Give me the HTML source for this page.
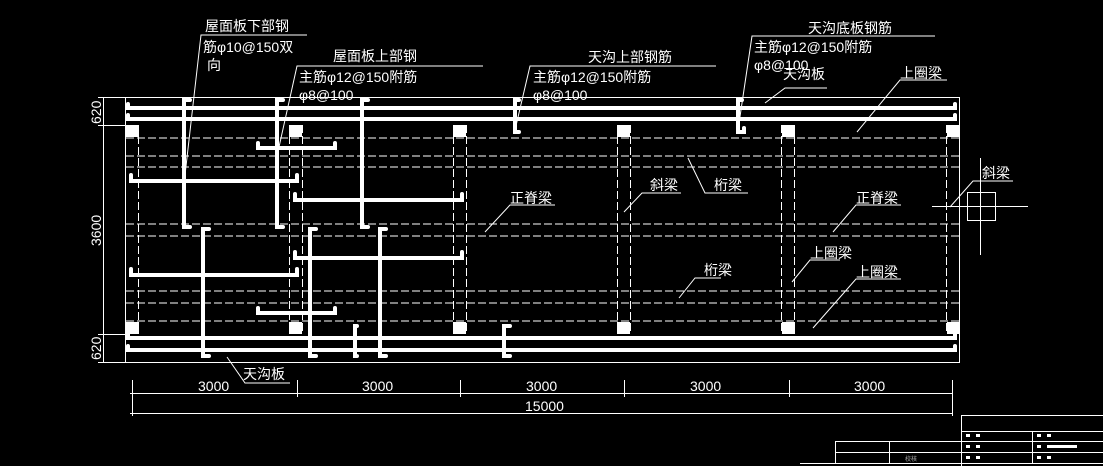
<!DOCTYPE html>
<html><head><meta charset="utf-8"><style>
html,body{margin:0;padding:0;background:#000;width:1103px;height:466px;overflow:hidden}
svg text{font-family:"Liberation Sans","Noto Sans CJK SC",sans-serif;fill:#fff;font-size:14px}
</style></head><body>
<svg width="1103" height="466" viewBox="0 0 1103 466" xmlns="http://www.w3.org/2000/svg">
<g stroke="#fff" fill="none" stroke-width="1">
<rect x="125.5" y="97.5" width="834" height="265"/>
<g stroke-dasharray="8,3">
<line x1="126" y1="138" x2="959" y2="138"/>
<line x1="126" y1="156" x2="959" y2="156"/>
<line x1="126" y1="167" x2="959" y2="167"/>
<line x1="126" y1="224" x2="959" y2="224"/>
<line x1="126" y1="236" x2="959" y2="236"/>
<line x1="126" y1="291" x2="959" y2="291"/>
<line x1="126" y1="303" x2="959" y2="303"/>
<line x1="126" y1="321" x2="959" y2="321"/>
<line x1="138.5" y1="125" x2="138.5" y2="334"/>
<line x1="289.5" y1="125" x2="289.5" y2="334"/>
<line x1="302.5" y1="125" x2="302.5" y2="334"/>
<line x1="453.5" y1="125" x2="453.5" y2="334"/>
<line x1="466.5" y1="125" x2="466.5" y2="334"/>
<line x1="617.5" y1="125" x2="617.5" y2="334"/>
<line x1="630.5" y1="125" x2="630.5" y2="334"/>
<line x1="781.5" y1="125" x2="781.5" y2="334"/>
<line x1="794.5" y1="125" x2="794.5" y2="334"/>
<line x1="946.5" y1="125" x2="946.5" y2="334"/>
</g>
</g>
<g fill="#fff">
<rect x="126" y="125" width="13" height="12"/><rect x="289" y="125" width="13" height="12"/><rect x="453" y="125" width="13" height="12"/><rect x="617" y="125" width="13" height="12"/><rect x="782" y="125" width="13" height="12"/><rect x="947" y="125" width="13" height="12"/>
<rect x="126" y="322" width="13" height="12"/><rect x="289" y="322" width="13" height="12"/><rect x="453" y="322" width="13" height="12"/><rect x="617" y="322" width="13" height="12"/><rect x="782" y="322" width="13" height="12"/><rect x="947" y="322" width="13" height="12"/>
</g>
<g stroke="#fff" fill="none" stroke-width="4" stroke-linecap="round">
<path d="M128 104 v4 H955 v-4"/><path d="M128 115 v4 H955 v-4"/>
<path d="M128 334 v4 H955 v-4"/><path d="M128 346 v4 H955 v-4"/>
<path d="M190 100 h-6 v127 h6"/><path d="M283 100 h-6 v127 h6"/><path d="M368 100 h-6 v127 h6"/>
<path d="M209 229 h-6 v127 h6"/><path d="M316 229 h-6 v127 h6"/><path d="M386 229 h-6 v127 h6"/>
<path d="M131 175 v6 H297 v-6"/><path d="M258 143 v5 H335 v-5"/><path d="M295 194 v6 H462 v-6"/>
<path d="M131 269 v6 H297 v-6"/><path d="M295 252 v6 H462 v-6"/><path d="M258 308 v5 H335 v-5"/>
<path d="M357 326 h-2 v30 h2"/>
<path d="M519 100 h-4 v32 h4"/><path d="M742 100 h-4 v32 h6 v-4"/><path d="M510 326 h-6 v30 h6"/>
</g>
<g stroke="#fff" fill="none" stroke-width="1">
<path d="M307 35 H201 L185 175"/>
<path d="M483 66 H297 L279 147"/>
<path d="M716 66 H530 L515 130"/>
<path d="M935 36 H752 L738 130"/>
<path d="M827 88 H785 L765 103"/>
<path d="M947 80 H900 L857 132"/>
<path d="M688 158 L705 193 H748"/>
<path d="M681 193 H642 L624 212"/>
<path d="M555 205 H510 L485 232"/>
<path d="M901 205 H856 L833 232"/>
<path d="M840 260 H810 L792 282"/>
<path d="M901 279 H856 L813 328"/>
<path d="M721 278 H695 L679 298"/>
<path d="M290 383 H245 L227 357"/>
<path d="M1013 181 H973 L950 207"/>
<rect x="967.5" y="192.5" width="28" height="28"/>
<line x1="932" y1="206.5" x2="1028" y2="206.5"/>
<line x1="980.5" y1="158" x2="980.5" y2="255"/>
<line x1="103.5" y1="97" x2="103.5" y2="363"/>
<line x1="98" y1="97.5" x2="125" y2="97.5"/><line x1="98" y1="125.5" x2="125" y2="125.5"/><line x1="98" y1="334.5" x2="125" y2="334.5"/><line x1="98" y1="362.5" x2="125" y2="362.5"/>
<line x1="130" y1="393.5" x2="952" y2="393.5"/>
<line x1="130" y1="413.5" x2="952" y2="413.5"/>
<line x1="132.5" y1="380" x2="132.5" y2="416"/>
<line x1="297.5" y1="380" x2="297.5" y2="397"/>
<line x1="460.5" y1="380" x2="460.5" y2="397"/>
<line x1="624.5" y1="380" x2="624.5" y2="397"/>
<line x1="789.5" y1="380" x2="789.5" y2="397"/>
<line x1="952.5" y1="380" x2="952.5" y2="416"/>
<line x1="961.5" y1="415" x2="961.5" y2="466"/>
<line x1="961" y1="415.5" x2="1103" y2="415.5"/>
<line x1="961" y1="431.5" x2="1103" y2="431.5"/>
<line x1="835" y1="441.5" x2="1103" y2="441.5"/>
<line x1="835" y1="452.5" x2="1103" y2="452.5"/>
<line x1="800" y1="463.5" x2="1103" y2="463.5"/>
<line x1="835.5" y1="441" x2="835.5" y2="463"/>
<line x1="889.5" y1="441" x2="889.5" y2="463"/>
<line x1="1032.5" y1="431" x2="1032.5" y2="463"/>
</g>
<g fill="#fff">
<rect x="966" y="434" width="4" height="3"/><rect x="976" y="434" width="4" height="3"/><rect x="1037" y="434" width="4" height="3"/><rect x="1047" y="434" width="4" height="3"/>
<rect x="966" y="445" width="4" height="3"/><rect x="976" y="445" width="4" height="3"/><rect x="1037" y="445" width="4" height="3"/><rect x="1047" y="445" width="30" height="3"/>
<rect x="966" y="456" width="4" height="3"/><rect x="976" y="456" width="4" height="3"/><rect x="1037" y="456" width="4" height="3"/><rect x="1047" y="456" width="4" height="3"/>
</g>
<text x="205" y="31">屋面板下部钢</text>
<text x="203" y="52">筋φ10@150双</text>
<text x="207" y="70">向</text>
<text x="333" y="61">屋面板上部钢</text>
<text x="299" y="82">主筋φ12@150附筋</text>
<text x="299" y="100">φ8@100</text>
<text x="588" y="62">天沟上部钢筋</text>
<text x="533" y="82">主筋φ12@150附筋</text>
<text x="533" y="100">φ8@100</text>
<text x="808" y="33">天沟底板钢筋</text>
<text x="754" y="52">主筋φ12@150附筋</text>
<text x="754" y="70">φ8@100</text>
<text x="783" y="79">天沟板</text>
<text x="900" y="78">上圈梁</text>
<text x="650" y="190">斜梁</text>
<text x="714" y="190">桁梁</text>
<text x="510" y="203">正脊梁</text>
<text x="856" y="203">正脊梁</text>
<text x="810" y="258">上圈梁</text>
<text x="856" y="277">上圈梁</text>
<text x="704" y="275">桁梁</text>
<text x="982" y="178">斜梁</text>
<text x="243" y="379">天沟板</text>
<text x="198" y="391" font-size="13">3000</text>
<text x="362" y="391" font-size="13">3000</text>
<text x="526" y="391" font-size="13">3000</text>
<text x="690" y="391" font-size="13">3000</text>
<text x="854" y="391" font-size="13">3000</text>
<text x="525" y="411" font-size="13">15000</text>
<text x="905" y="461" style="font-size:6px;fill:#aaa">校核</text>
<text font-size="13" transform="translate(101,124) rotate(-90)">620</text>
<text font-size="13" transform="translate(101,246) rotate(-90)">3600</text>
<text font-size="13" transform="translate(101,360) rotate(-90)">620</text>
</svg>
</body></html>
